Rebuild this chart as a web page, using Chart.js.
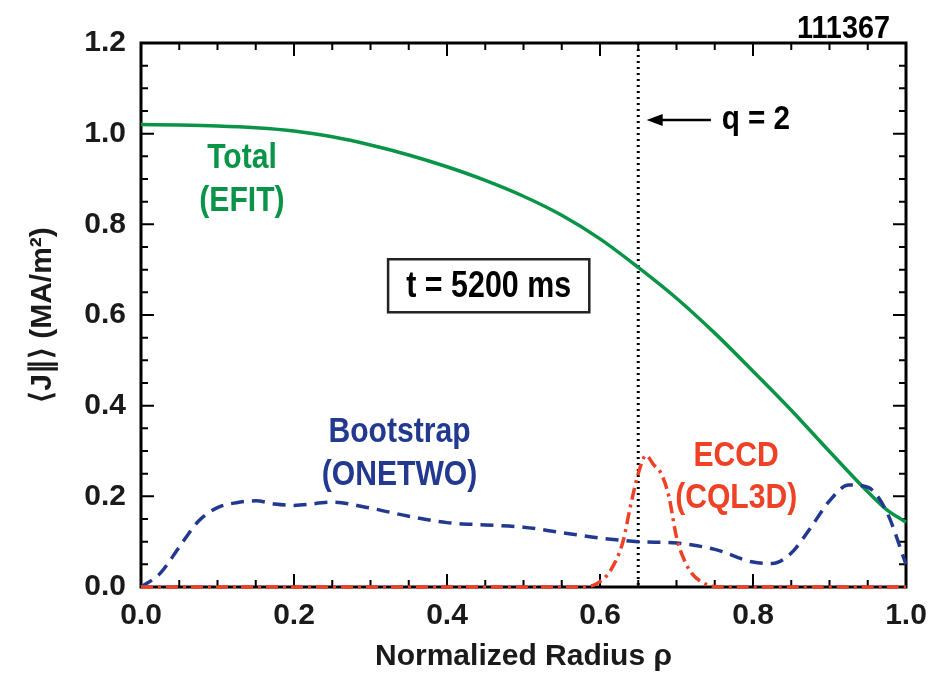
<!DOCTYPE html>
<html>
<head>
<meta charset="utf-8">
<script src="https://cdn.jsdelivr.net/npm/chart.js@4/dist/chart.umd.min.js"></script>
<style>
  html, body { margin: 0; padding: 0; background: #fff; }
  #wrap { width: 943px; height: 678px; }
</style>
</head>
<body>
<div id="wrap"><canvas id="jChart"></canvas></div>
<script>
// values (normalized radius rho vs <J||> in MA/m^2)
const totalRho = [0, 0.05, 0.1, 0.15, 0.2, 0.25, 0.3, 0.35, 0.4, 0.45, 0.5, 0.55, 0.6, 0.65, 0.7, 0.75, 0.8, 0.85, 0.9, 0.95, 0.975, 1.0];
const totalJ   = [1.02, 1.019, 1.017, 1.013, 1.006, 0.993, 0.975, 0.953, 0.927, 0.897, 0.862, 0.82, 0.768, 0.705, 0.637, 0.56, 0.476, 0.39, 0.299, 0.21, 0.17, 0.143];

const bootRho = [0, 0.025, 0.05, 0.075, 0.1, 0.125, 0.15, 0.175, 0.2, 0.25, 0.3, 0.35, 0.4, 0.45, 0.5, 0.55, 0.6, 0.65, 0.7, 0.75, 0.8, 0.825, 0.85, 0.875, 0.9, 0.925, 0.95, 0.975, 1.0];
const bootJ   = [0, 0.03, 0.088, 0.145, 0.175, 0.186, 0.19, 0.183, 0.18, 0.187, 0.174, 0.156, 0.142, 0.137, 0.132, 0.12, 0.108, 0.1, 0.097, 0.083, 0.055, 0.052, 0.075, 0.13, 0.19, 0.225, 0.22, 0.165, 0.05];

const eccdRho = [0, 0.1, 0.2, 0.3, 0.4, 0.5, 0.58, 0.6, 0.615, 0.63, 0.64, 0.65, 0.66, 0.67, 0.68, 0.69, 0.7, 0.71, 0.72, 0.74, 0.76, 0.8, 0.9, 1.0];
const eccdJ   = [0, 0, 0, 0, 0, 0, 0, 0.012, 0.04, 0.1, 0.18, 0.25, 0.29, 0.27, 0.25, 0.2, 0.11, 0.06, 0.03, 0.005, 0, 0, 0, 0];

const xTicks = [0, 0.2, 0.4, 0.6, 0.8, 1.0];
const yTicks = [0, 0.2, 0.4, 0.6, 0.8, 1.0, 1.2];
const qRho = 0.65;   // q = 2 surface
const shotNumber = '111367';

const FONT = "'Liberation Sans', Arial, sans-serif";
const GREEN = '#0A9447';
const BLUE = '#22398F';
const RED = '#EE4126';

function pts(xs, ys) {
  return xs.map((x, i) => ({ x: x, y: ys[i] }));
}

// narrow-looking bold text (the original uses a condensed face)
function narrowText(ctx, text, x, y, sx) {
  ctx.save();
  ctx.translate(x, y);
  ctx.scale(sx, 1);
  ctx.fillText(text, 0, 0);
  ctx.restore();
}

// frame, inward ticks (major + minor), q=2 marker and text labels
const decorations = {
  id: 'decorations',
  beforeDatasetsDraw(chart) {
    const { ctx, chartArea: a, scales: { x, y } } = chart;
    ctx.save();
    ctx.strokeStyle = '#000';
    ctx.lineWidth = 2;
    for (let i = 1; i < 20; i++) {
      const px = x.getPixelForValue(i * 0.05);
      const len = (i % 4 === 0) ? 13 : 7;
      ctx.beginPath();
      ctx.moveTo(px, a.bottom); ctx.lineTo(px, a.bottom - len);
      ctx.moveTo(px, a.top); ctx.lineTo(px, a.top + len);
      ctx.stroke();
    }
    for (let i = 1; i < 24; i++) {
      const py = y.getPixelForValue(i * 0.05);
      const len = (i % 4 === 0) ? 13 : 7;
      ctx.beginPath();
      ctx.moveTo(a.left, py); ctx.lineTo(a.left + len, py);
      ctx.moveTo(a.right, py); ctx.lineTo(a.right - len, py);
      ctx.stroke();
    }
    // frame
    ctx.lineWidth = 3;
    ctx.strokeRect(a.left, a.top, a.right - a.left, a.bottom - a.top);

    // dotted q=2 line
    const qx = x.getPixelForValue(qRho);
    ctx.setLineDash([2, 4]);
    ctx.lineWidth = 3;
    ctx.beginPath();
    ctx.moveTo(qx, a.top); ctx.lineTo(qx, a.bottom);
    ctx.stroke();
    ctx.setLineDash([]);
    ctx.restore();
  },
  afterDatasetsDraw(chart) {
    const { ctx, chartArea: a, scales: { x, y } } = chart;
    ctx.save();

    // arrow to q = 2
    const ay = y.getPixelForValue(1.03);
    const x0 = x.getPixelForValue(0.745), x1 = x.getPixelForValue(0.661);
    ctx.strokeStyle = '#000';
    ctx.lineWidth = 2.5;
    ctx.beginPath();
    ctx.moveTo(x0, ay); ctx.lineTo(x1 + 10, ay);
    ctx.stroke();
    ctx.fillStyle = '#000';
    ctx.beginPath();
    ctx.moveTo(x1, ay); ctx.lineTo(x1 + 16, ay - 6); ctx.lineTo(x1 + 16, ay + 6);
    ctx.closePath();
    ctx.fill();

    ctx.textBaseline = 'middle';
    ctx.font = 'bold 33px ' + FONT;
    ctx.textAlign = 'left';
    narrowText(ctx, 'q = 2', x.getPixelForValue(0.759), ay, 0.9);

    ctx.font = 'bold 35px ' + FONT;
    ctx.textAlign = 'center';
    ctx.fillStyle = GREEN;
    narrowText(ctx, 'Total', x.getPixelForValue(0.132), y.getPixelForValue(0.946), 0.86);
    narrowText(ctx, '(EFIT)', x.getPixelForValue(0.132), y.getPixelForValue(0.85), 0.86);

    ctx.fillStyle = BLUE;
    narrowText(ctx, 'Bootstrap', x.getPixelForValue(0.338), y.getPixelForValue(0.342), 0.86);
    narrowText(ctx, '(ONETWO)', x.getPixelForValue(0.338), y.getPixelForValue(0.246), 0.86);

    ctx.fillStyle = RED;
    narrowText(ctx, 'ECCD', x.getPixelForValue(0.778), y.getPixelForValue(0.289), 0.86);
    narrowText(ctx, '(CQL3D)', x.getPixelForValue(0.778), y.getPixelForValue(0.196), 0.86);

    // time box
    const bx0 = x.getPixelForValue(0.323), bx1 = x.getPixelForValue(0.586);
    const by0 = y.getPixelForValue(0.723), by1 = y.getPixelForValue(0.606);
    ctx.fillStyle = '#fff';
    ctx.fillRect(bx0, by0, bx1 - bx0, by1 - by0);
    ctx.strokeStyle = '#222';
    ctx.lineWidth = 2.5;
    ctx.strokeRect(bx0, by0, bx1 - bx0, by1 - by0);
    ctx.fillStyle = '#000';
    ctx.font = 'bold 36px ' + FONT;
    narrowText(ctx, 't = 5200 ms', (bx0 + bx1) / 2, (by0 + by1) / 2 + 1, 0.845);

    // shot number
    ctx.font = 'bold 31px ' + FONT;
    ctx.textAlign = 'right';
    ctx.textBaseline = 'alphabetic';
    narrowText(ctx, shotNumber, a.right - 16, a.top - 5, 0.93);
    ctx.restore();
  }
};

new Chart(document.getElementById('jChart'), {
  type: 'line',
  data: {
    datasets: [
      {
        label: 'ECCD (CQL3D)',
        data: pts(eccdRho, eccdJ),
        borderColor: RED,
        borderWidth: 3.5,
        borderDash: [12, 5, 3, 5],
        cubicInterpolationMode: 'monotone',
        pointRadius: 0,
        clip: false
      },
      {
        label: 'Bootstrap (ONETWO)',
        data: pts(bootRho, bootJ),
        borderColor: BLUE,
        borderWidth: 3.5,
        borderDash: [13, 8],
        cubicInterpolationMode: 'monotone',
        pointRadius: 0,
        clip: false
      },
      {
        label: 'Total (EFIT)',
        data: pts(totalRho, totalJ),
        borderColor: GREEN,
        borderWidth: 3.5,
        cubicInterpolationMode: 'monotone',
        pointRadius: 0,
        clip: false
      }
    ]
  },
  options: {
    responsive: true,
    maintainAspectRatio: false,
    animation: false,
    layout: { padding: { left: 25, right: 37, top: 43, bottom: 3 } },
    plugins: {
      legend: { display: false },
      tooltip: { enabled: false }
    },
    scales: {
      x: {
        type: 'linear',
        min: 0,
        max: 1,
        grid: { display: false, drawTicks: false },
        border: { display: false },
        afterBuildTicks: (s) => { s.ticks = xTicks.map(v => ({ value: v })); },
        afterFit: (s) => { s.height = 88; },
        ticks: {
          padding: 11,
          color: '#1a1a1a',
          font: { family: FONT, size: 30, weight: 'bold' },
          callback: (v) => v.toFixed(1)
        },
        title: {
          display: true,
          text: 'Normalized Radius ρ',
          color: '#1a1a1a',
          padding: { top: 0, bottom: 0 },
          font: { family: FONT, size: 30, weight: 'bold' }
        }
      },
      y: {
        type: 'linear',
        min: 0,
        max: 1.2,
        grid: { display: false, drawTicks: false },
        border: { display: false },
        afterBuildTicks: (s) => { s.ticks = yTicks.map(v => ({ value: v })); },
        afterFit: (s) => { s.width = 116; },
        ticks: {
          padding: 15,
          color: '#1a1a1a',
          font: { family: FONT, size: 30, weight: 'bold' },
          callback: (v) => v.toFixed(1)
        },
        title: {
          display: true,
          text: '⟨J∥⟩ (MA/m²)',
          color: '#1a1a1a',
          padding: { top: 0, bottom: 0 },
          font: { family: FONT, size: 30, weight: 'bold' }
        }
      }
    }
  },
  plugins: [decorations]
});
</script>
</body>
</html>
